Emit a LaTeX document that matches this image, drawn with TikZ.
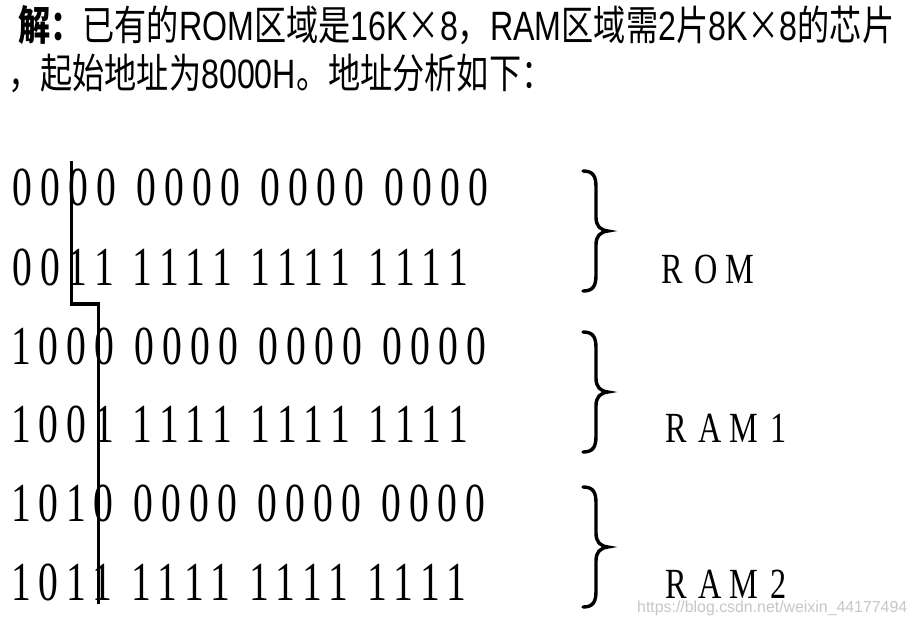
\documentclass[tikz,border=0pt]{standalone}
\usepackage{fontspec}
\newfontfamily\hfont{Noto Sans CJK SC}
\newfontfamily\lfont{Liberation Sans}
\newfontfamily\binfont{Liberation Serif}
\newfontfamily\wmfont{Liberation Sans}
\newcommand\HdrFont{\hfont\fontsize{41pt}{44pt}\selectfont}
\newcommand\Dg[1]{\if1#1\makebox[26.5pt][c]{\scalebox{0.72}[1]{#1}}\else\makebox[28pt][c]{\scalebox{0.72}[1]{#1}}\fi}
\newcommand\Grp[1]{\GrpI#1}
\newcommand\GrpI[4]{\Dg{#1}\Dg{#2}\Dg{#3}\Dg{#4}}
\newcommand\BinRow[4]{\Grp{#1}\hspace{12pt}\Grp{#2}\hspace{12pt}\Grp{#3}\hspace{12pt}\Grp{#4}}
\newcommand\Lt[1]{\makebox[34pt][c]{\scalebox{0.75}[1]{#1}}}
\newcommand\La[1]{{\lfont #1}}
\newcommand\HdrA{{\bfseries 解：}已有的\La{ROM}区域是\La{16K}×\La{8}，\La{RAM}区域需\La{2}片\La{8K}×\La{8}的芯片}
\newcommand\HdrB{，起始地址为\La{8000H}。地址分析如下：}
\newlength\HwA
\newsavebox\HbA
\tikzset{
  hdr/.style={anchor=base west, inner sep=0pt, font=\HdrFont},
  binrow/.style={anchor=base west, inner sep=0pt, font=\binfont\fontsize{55pt}{60pt}\selectfont},
  lab/.style={anchor=base west, inner sep=0pt, font=\binfont\fontsize{43pt}{48pt}\selectfont},
  bar/.style={line width=3.5pt, line join=miter, line cap=rect},
  bracestyle/.style={line width=3.4pt, line cap=round},
  wm/.style={anchor=base west, inner sep=0pt, text=black!22, font=\wmfont\fontsize{16pt}{18pt}\selectfont}
}
\newcommand\RBrace[1]{%
  \begin{scope}[shift={(0,#1)}]
    \draw[bracestyle] (583,-60) .. controls (593,-60) and (596,-55) .. (596,-44)
      -- (596,-14) .. controls (596,-5) and (600,-1) .. (608,0)
      .. controls (600,1) and (596,5) .. (596,14)
      -- (596,44) .. controls (596,55) and (593,60) .. (583,60);
  \end{scope}}
\begin{document}
\sbox\HbA{\HdrFont\HdrA}%
\setlength\HwA{\wd\HbA}%
\ifdim\HwA<1pt \setlength\HwA{876pt}\fi
\pgfmathsetmacro\Hs{876/\HwA}%
\begin{tikzpicture}[x=1pt,y=-1pt]
\path[use as bounding box, fill=white] (0,0) rectangle (917,627);
\node[hdr] (h1) at (18,40) {\scalebox{\Hs}[1]{\HdrA}};
\node[hdr] (h2) at (8,88) {\scalebox{\Hs}[1]{\HdrB}};
\node[binrow] (r1) at (8,205) {\BinRow{0000}{0000}{0000}{0000}};
\node[binrow] (r2) at (8,285) {\BinRow{0011}{1111}{1111}{1111}};
\node[binrow] (r3) at (8,364) {\BinRow{1000}{0000}{0000}{0000}};
\node[binrow] (r4) at (8,442) {\BinRow{1001}{1111}{1111}{1111}};
\node[binrow] (r5) at (8,521) {\BinRow{1010}{0000}{0000}{0000}};
\node[binrow] (r6) at (8,600) {\BinRow{1011}{1111}{1111}{1111}};
\coordinate (a1) at (71.5,163);
\coordinate (a2) at (71.5,304);
\coordinate (a3) at (98.5,304);
\coordinate (a4) at (98.5,602);
\draw[bar] (a1) -- (a2) -- (a3) -- (a4);
\RBrace{231}
\RBrace{392}
\RBrace{547}
\node[lab] (rom) at (655,283) {\Lt{R}\Lt{O}\Lt{M}};
\node[lab] (ram1) at (659,442) {\Lt{R}\Lt{A}\Lt{M}\Lt{1}};
\node[lab] (ram2) at (659,598) {\Lt{R}\Lt{A}\Lt{M}\Lt{2}};
\node[wm] (wmk) at (637,612) {\resizebox{270pt}{\height}{https://blog.csdn.net/weixin\_44177494}};
\end{tikzpicture}
\end{document}
